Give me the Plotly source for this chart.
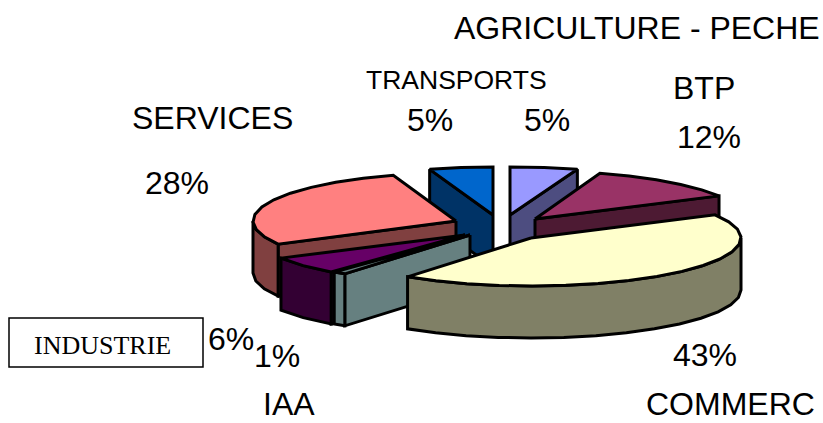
import math
import plotly.graph_objects as go

names = ["AGRICULTURE - PECHE", "BTP", "COMMERC", "IAA", "INDUSTRIE", "SERVICES", "TRANSPORTS"]
values = [5, 12, 43, 1, 6, 28, 5]
top_colors = ["#9999FF", "#993366", "#FFFFCC", "#668080", "#660066", "#FF8080", "#0066CC"]
side_colors = ["#4D4D80", "#4D1A33", "#808066", "#668080", "#330033", "#804040", "#003366"]

B, DEPTH = 48, 52
semi_x = {"AGRICULTURE - PECHE": 218, "BTP": 210, "COMMERC": 210, "IAA": 213,
          "INDUSTRIE": 210, "SERVICES": 203, "TRANSPORTS": 205}
apex = {
    "AGRICULTURE - PECHE": (510, 215), "BTP": (535, 219), "COMMERC": (531, 238),
    "IAA": (470, 235), "INDUSTRIE": (465, 235), "SERVICES": (456, 221), "TRANSPORTS": (493, 215),
}
draw_order = ["AGRICULTURE - PECHE", "TRANSPORTS", "BTP", "SERVICES", "INDUSTRIE", "IAA", "COMMERC"]

angles = {}
cum = 0
for n, v in zip(names, values):
    angles[n] = (cum * 3.6, (cum + v) * 3.6)
    cum += v

def rim(n, a0, a1):
    cx, cy = apex[n]
    steps = max(1, round((a1 - a0) / 9))
    out = []
    for i in range(steps + 1):
        t = math.radians(a0 + (a1 - a0) * i / steps)
        out.append((cx + semi_x[n] * math.sin(t), cy - B * math.cos(t)))
    return out

fig = go.Figure()

def poly(pts, color):
    xs = [p[0] for p in pts] + [pts[0][0]]
    ys = [p[1] for p in pts] + [pts[0][1]]
    fig.add_trace(go.Scatter(x=xs, y=ys, mode="lines", fill="toself", fillcolor=color,
                             line=dict(color="black", width=3), hoverinfo="skip", showlegend=False))

def down(pts):
    return [(x, y + DEPTH) for x, y in pts]

for n in draw_order:
    i = names.index(n)
    a0, a1 = angles[n]
    c = apex[n]
    arc = rim(n, a0, a1)
    side, top = side_colors[i], top_colors[i]
    # a cut face is drawn only when it turns towards the viewer
    if 180 <= a0 < 360:
        poly([c, arc[0], down([arc[0]])[0], down([c])[0]], side)
    if 0 < a1 < 180:
        poly([c, arc[-1], down([arc[-1]])[0], down([c])[0]], side)
    lo, hi = max(a0, 90), min(a1, 270)
    if lo < hi:
        wall = rim(n, lo, hi)
        poly(wall + down(wall)[::-1], side)
    poly([c] + arc, top)

labels = [
    ("AGRICULTURE - PECHE", 637, 28, 32), ("5%", 547, 120, 32),
    ("BTP", 704, 88, 32), ("12%", 709, 137, 32),
    ("COMMERC", 730, 404, 32), ("43%", 705, 355, 32),
    ("IAA", 289, 404, 32), ("1%", 277, 356, 32),
    ("6%", 231, 339, 32),
    ("SERVICES", 212, 118, 32), ("28%", 177, 183, 32),
    ("TRANSPORTS", 456, 80, 26.5), ("5%", 430, 120, 32),
]
anns = [dict(x=x, y=y, text=t, showarrow=False, xanchor="center", yanchor="middle",
             font=dict(family="Liberation Sans", size=s, color="black")) for t, x, y, s in labels]
anns.append(dict(x=102, y=345, text="INDUSTRIE", showarrow=False, xanchor="center", yanchor="middle",
                 font=dict(family="Liberation Serif", size=26, color="black")))

fig.update_layout(
    width=823, height=423, margin=dict(l=0, r=0, t=0, b=0),
    paper_bgcolor="white", plot_bgcolor="white", showlegend=False,
    xaxis=dict(range=[0, 823], visible=False, fixedrange=True),
    yaxis=dict(range=[423, 0], visible=False, fixedrange=True),
    annotations=anns,
    shapes=[dict(type="rect", x0=9, x1=203, y0=318, y1=367, line=dict(color="black", width=1.5), fillcolor="white", layer="below")],
)
fig.write_html("out.html", config={"displayModeBar": False},
               post_script="document.body.style.margin='0';document.body.style.overflow='hidden';")
